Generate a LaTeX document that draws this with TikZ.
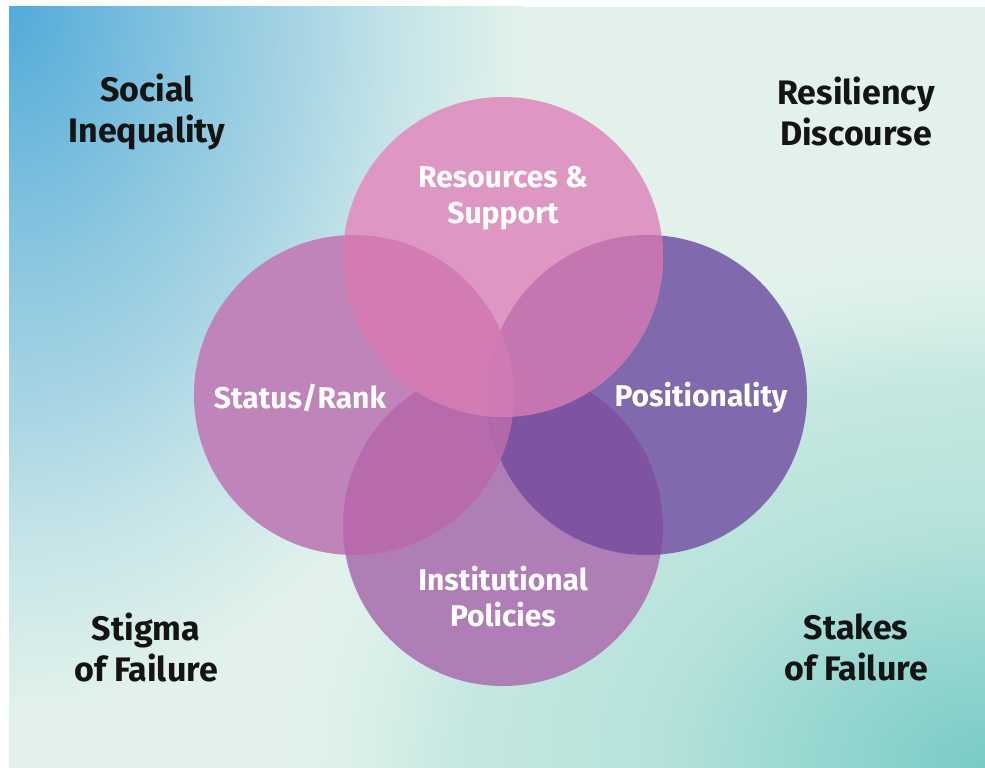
\documentclass[tikz,border=0pt]{standalone}
\usepackage{fontspec}
\setmainfont{Fira Sans}
\definecolor{cBase}{HTML}{E2F2EB}
\definecolor{cBlue}{HTML}{52ABD9}
\definecolor{cBlueA}{HTML}{8EC8E0}
\definecolor{cBlueB}{HTML}{A8D5E4}
\definecolor{cBlueC}{HTML}{C5E4E8}
\definecolor{cTeal}{HTML}{78CBC6}
\definecolor{cTealA}{HTML}{B5E2DB}
\definecolor{cTealB}{HTML}{C5E8E1}
\definecolor{cTealC}{HTML}{D9EFE8}
\definecolor{cT}{HTML}{DD97C2}
\definecolor{cL}{HTML}{BF84BA}
\definecolor{cR}{HTML}{8169AD}
\definecolor{cB}{HTML}{B07EB7}
\definecolor{cTL}{HTML}{D47BB4}
\definecolor{cTR}{HTML}{C576B1}
\definecolor{cLB}{HTML}{B76BAD}
\definecolor{cRB}{HTML}{7E53A2}
\definecolor{cLRB}{HTML}{B268AB}
\definecolor{cLRT}{HTML}{D07AB3}
\definecolor{cInk}{HTML}{141414}
\pgfdeclareradialshading{bluespot}{\pgfpointorigin}{color(0bp)=(cBlue); color(16.5bp)=(cBlueA); color(24.5bp)=(cBlueB); color(32.5bp)=(cBlueC); color(43bp)=(cBase); color(50bp)=(cBase)}
\pgfdeclareradialshading{tealspot}{\pgfpointorigin}{color(0bp)=(cTeal); color(23.5bp)=(cTealA); color(37.5bp)=(cTealB); color(44bp)=(cTealC); color(50bp)=(cBase)}
\tikzset{
  cornerlabel/.style={align=center, text=cInk, font=\fontsize{34}{41}\selectfont\bfseries, inner sep=0pt},
  circlelabel/.style={align=center, text=white, font=\fontsize{30}{36}\selectfont\bfseries, inner sep=0pt},
}
\begin{document}
\begin{tikzpicture}[x=1pt,y=-1pt]
\useasboundingbox (0,0) rectangle (985,768);
\fill[white] (0,0) rectangle (985,768);
% background
\begin{scope}
\clip (9,7) rectangle (985,768);
\fill[cBase] (9,7) rectangle (985,768);
\begin{pgfscope}
\pgftransformshift{\pgfpoint{985pt}{-768pt}}
\pgftransformcm{13.948}{0}{0}{10.361}{\pgfpointorigin}
\pgfpathcircle{\pgfpointorigin}{50bp}
\pgfusepath{clip}
\pgflowlevelsynccm
\pgfuseshading{tealspot}
\end{pgfscope}
\begin{pgfscope}
\pgftransformshift{\pgfpoint{9pt}{-7pt}}
\pgftransformcm{11.955}{0}{0}{16.339}{\pgfpointorigin}
\pgfpathcircle{\pgfpointorigin}{43bp}
\pgfusepath{clip}
\pgflowlevelsynccm
\pgfuseshading{bluespot}
\end{pgfscope}
\end{scope}
% circle centres
\coordinate (cirT) at (503,257);
\coordinate (cirL) at (354,395);
\coordinate (cirR) at (647,395);
\coordinate (cirB) at (503,526);
\def\rr{160}
% single circles
\fill[cL] (cirL) circle[radius=\rr];
\fill[cR] (cirR) circle[radius=\rr];
\fill[cB] (cirB) circle[radius=\rr];
\fill[cT] (cirT) circle[radius=\rr];
% pair overlaps
\begin{scope}
\clip (cirL) circle[radius=\rr];
\fill[cLB] (cirB) circle[radius=\rr];
\end{scope}
\begin{scope}
\clip (cirR) circle[radius=\rr];
\fill[cRB] (cirB) circle[radius=\rr];
\end{scope}
\begin{scope}
\clip (cirL) circle[radius=\rr];
\clip (cirR) circle[radius=\rr];
\fill[cLRB] (cirB) circle[radius=\rr];
\end{scope}
\begin{scope}
\clip (cirR) circle[radius=\rr];
\fill[cTR] (cirT) circle[radius=\rr];
\end{scope}
\begin{scope}
\clip (cirL) circle[radius=\rr];
\fill[cTL] (cirT) circle[radius=\rr];
\end{scope}
\begin{scope}
\clip (cirL) circle[radius=\rr];
\clip (cirR) circle[radius=\rr];
\fill[cLRT] (cirT) circle[radius=\rr];
\end{scope}
% circle labels
\node[circlelabel] (lres) at (503,198) {Resources \&\\Support};
\node[circlelabel] (lstat) at (300,398) {Status/Rank};
\node[circlelabel] (lpos) at (701,398) {Positionality};
\node[circlelabel] (linst) at (503,597) {Institutional\\Policies};
% corner labels
\node[cornerlabel] (lsoc) at (147,112) {Social\\Inequality};
\node[cornerlabel] (lresil) at (856,112) {Resiliency\\Discourse};
\node[cornerlabel] (lstig) at (146,647) {Stigma\\of Failure};
\node[cornerlabel] (lstak) at (856,647) {Stakes\\of Failure};
\end{tikzpicture}
\end{document}
